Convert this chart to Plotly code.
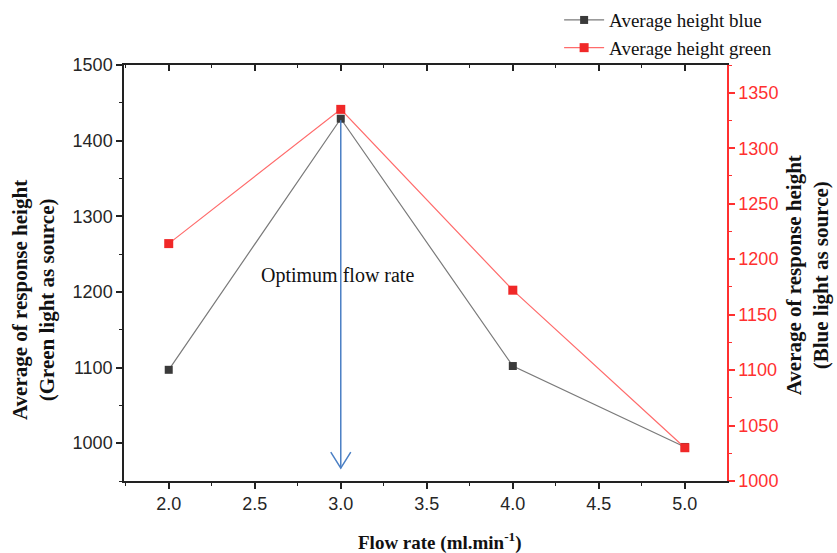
import plotly.graph_objects as go

flow_rate = [2.0, 3.0, 4.0, 5.0]
height_blue = [1097, 1429, 1102, 995]      # left axis
height_green = [1214, 1335, 1172, 1030]    # right axis
x_ticks = [2.0, 2.5, 3.0, 3.5, 4.0, 4.5, 5.0]
x_tick_text = ["2.0", "2.5", "3.0", "3.5", "4.0", "4.5", "5.0"]

x_range = [1.74, 5.245]
y1_range = [950, 1500]
y2_range = [1000, 1375]
optimum_x = 3.0
arrow_top = 1427
arrow_bottom = 967

SERIF = "Liberation Serif, Times New Roman, serif"
SANS = "Liberation Sans, Arial, sans-serif"

fig = go.Figure()
fig.add_trace(go.Scatter(
    x=flow_rate, y=height_blue, name="Average height blue", mode="lines+markers",
    line=dict(color="#7a7a7a", width=1.2),
    marker=dict(symbol="square", size=8, color="#3a3a3a"),
    yaxis="y"))
fig.add_trace(go.Scatter(
    x=flow_rate, y=height_green, name="Average height green", mode="lines+markers",
    line=dict(color="#ff6b6b", width=1.2),
    marker=dict(symbol="square", size=9, color="#f02828"),
    yaxis="y2"))
# invisible trace to anchor the top mirrored axis
fig.add_trace(go.Scatter(x=x_range, y=y1_range, xaxis="x2", yaxis="y",
                         mode="markers", marker=dict(opacity=0), showlegend=False,
                         hoverinfo="skip"))

# arrow: shaft and open V head, sized from the plot's own scale
plot_w, plot_h = 603, 416
px_x = (x_range[1] - x_range[0]) / plot_w
px_y = (y1_range[1] - y1_range[0]) / plot_h
head_dx = 10 * px_x
head_dy = 16 * px_y
fig.add_shape(type="line", x0=optimum_x, x1=optimum_x, y0=arrow_top, y1=arrow_bottom,
              xref="x", yref="y", line=dict(color="#4a7fc4", width=1.5))
fig.add_shape(type="path", xref="x", yref="y",
              path=f"M{optimum_x - head_dx},{arrow_bottom + head_dy} L{optimum_x},{arrow_bottom} L{optimum_x + head_dx},{arrow_bottom + head_dy}",
              line=dict(color="#4a7fc4", width=1.5))
fig.add_annotation(x=2.98, y=1222, xref="x", yref="y", text="Optimum flow rate",
                   showarrow=False, font=dict(family=SERIF, size=20, color="#111"))

# axis titles
title_font_y = dict(family=SERIF, size=21, color="#111")
fig.add_annotation(x=-0.151, y=0.435, xref="paper", yref="paper", textangle=-90,
                   text="<b>Average of response height<br>(Green light as source)</b>",
                   showarrow=False, font=title_font_y, xanchor="center", yanchor="middle")
fig.add_annotation(x=1.133, y=0.495, xref="paper", yref="paper", textangle=-90,
                   text="<b>Average of response height<br>(Blue light as source)</b>",
                   showarrow=False, font=title_font_y, xanchor="center", yanchor="middle")
fig.add_annotation(x=0.524, y=-0.146, xref="paper", yref="paper",
                   text="<b>Flow rate (ml.min<sup>-1</sup>)</b>",
                   showarrow=False, font=dict(family=SERIF, size=19, color="#111"),
                   xanchor="center", yanchor="middle")

tick_font = dict(family=SANS, size=18, color="#262626")
fig.update_layout(
    width=837, height=553,
    margin=dict(l=124, r=110, t=65, b=72, autoexpand=False),
    plot_bgcolor="white", paper_bgcolor="white",
    showlegend=True,
    legend=dict(xref="container", yref="container", x=0.668, y=0.998,
                xanchor="left", yanchor="top",
                font=dict(family=SERIF, size=19, color="#111"),
                bgcolor="rgba(0,0,0,0)", itemwidth=40, tracegroupgap=0),
    xaxis=dict(range=x_range, tickvals=x_ticks, ticktext=x_tick_text,
               showgrid=False, zeroline=False,
               showline=True, linecolor="#222", linewidth=1.5,
               ticks="outside", ticklen=6, tickwidth=1.5, tickcolor="#222",
               minor=dict(dtick=0.25, tick0=1.75, ticks="outside", ticklen=3, tickcolor="#222", tickwidth=1),
               tickfont=tick_font),
    xaxis2=dict(range=x_range, overlaying="x", side="top", anchor="y",
                tickvals=x_ticks, showticklabels=False, showgrid=False, zeroline=False,
                showline=True, linecolor="#222", linewidth=1.5,
                ticks="inside", ticklen=6, tickwidth=1.5, tickcolor="#222",
                minor=dict(dtick=0.25, tick0=1.75, ticks="inside", ticklen=3, tickcolor="#222", tickwidth=1)),
    yaxis=dict(range=y1_range, tick0=1000, dtick=100, showgrid=False, zeroline=False,
               showline=True, linecolor="#222", linewidth=1.5,
               ticks="outside", ticklen=6, tickwidth=1.5, tickcolor="#222",
               minor=dict(dtick=50, tick0=950, ticks="outside", ticklen=3, tickcolor="#222", tickwidth=1),
               tickfont=tick_font),
    yaxis2=dict(range=y2_range, overlaying="y", side="right", anchor="x",
                tick0=1000, dtick=50, showgrid=False, zeroline=False,
                showline=True, linecolor="#ff3030", linewidth=1.5,
                ticks="outside", ticklen=6, tickwidth=1.5, tickcolor="#ff3030",
                minor=dict(dtick=25, tick0=1000, ticks="outside", ticklen=3, tickcolor="#ff3030", tickwidth=1),
                tickfont=dict(family=SANS, size=18, color="#ff3030")),
)
fig.write_html("out.html", config={"displayModeBar": False},
               post_script="document.body.style.margin='0';")
